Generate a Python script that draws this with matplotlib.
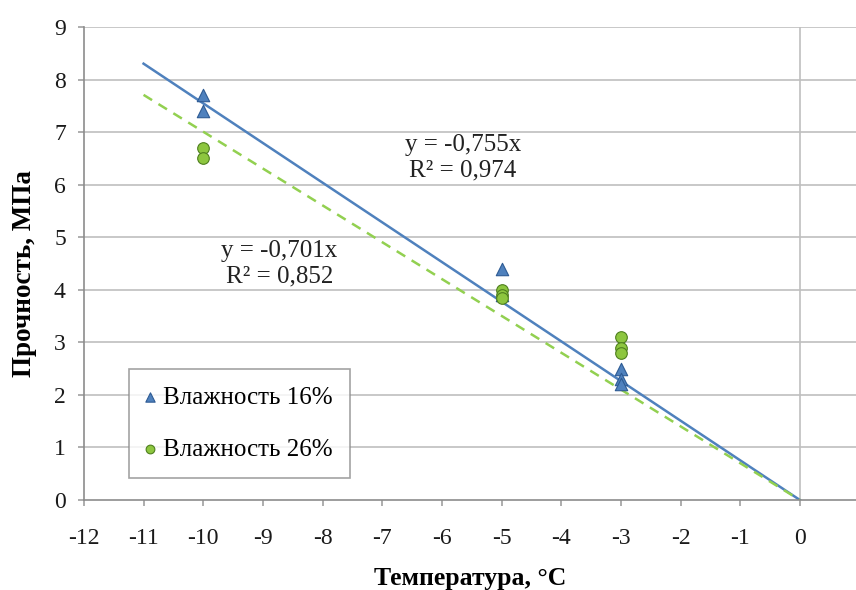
import os
import matplotlib.pyplot as plt
from matplotlib import font_manager
import numpy as np

# register the Times-like serif directly from its files
serif_name = 'Liberation Serif'
for path in font_manager.findSystemFonts():
    base = os.path.basename(path)
    if base.startswith('LiberationSerif') or base.startswith('Tinos'):
        font_manager.fontManager.addfont(path)
        if 'Regular' in base:
            serif_name = font_manager.FontProperties(fname=path).get_name()

plt.rcParams['font.family'] = [serif_name, 'DejaVu Serif']

# measured points
temp_16 = [-10, -10, -5, -5, -3, -3, -3]
str_16 = [7.7, 7.4, 4.4, 3.9, 2.5, 2.3, 2.2]
temp_26 = [-10, -10, -5, -5, -5, -3, -3, -3]
str_26 = [6.7, 6.5, 4.0, 3.9, 3.85, 3.1, 2.9, 2.8]

# trend lines through origin
slope_16 = -0.755
slope_26 = -0.701
r2_16 = 0.974
r2_26 = 0.852
trend_x = [-11, 0]

x_ticks = list(range(-12, 1))
y_ticks = list(range(0, 10))

fig = plt.figure(figsize=(8.56, 5.9), dpi=100)
ax = fig.add_axes([0.098, 0.1525, 0.902, 0.8015])

ax.set_xlim(-12, 0.94)
ax.set_ylim(0, 9)
ax.set_xticks(x_ticks)
ax.set_yticks(y_ticks)
ax.set_xticklabels([str(t) for t in x_ticks])

for y in y_ticks[1:]:
    ax.axhline(y, color='#bfbfbf', lw=1.2, zorder=0)
ax.axvline(0, color='#bfbfbf', lw=1.2, zorder=0)

for side in ['top', 'right']:
    ax.spines[side].set_visible(False)
for side in ['left', 'bottom']:
    ax.spines[side].set_color('#8c8c8c')
    ax.spines[side].set_linewidth(1.2)
ax.tick_params(axis='both', labelsize=17, colors='#1a1a1a', length=4,
               direction='out', width=1.2)
ax.tick_params(axis='both', color='#a0a0a0')
ax.tick_params(axis='x', pad=16)
ax.tick_params(axis='y', pad=9)

tx = np.array(trend_x, dtype=float)
ax.plot(tx, slope_16 * tx, color='#4f81bd', lw=1.8, zorder=2)
ax.plot(tx, slope_26 * tx, color='#92d050', lw=1.8, ls=(0, (4, 3)), zorder=2)

ax.scatter(temp_16, str_16, marker='^', s=80, color='#4f81bd',
           edgecolors='#2e5b94', linewidths=0.8, zorder=3, label='Влажность 16%')
ax.scatter(temp_26, str_26, marker='o', s=70, color='#8dc63f',
           edgecolors='#4e7f1e', linewidths=0.8, zorder=3, label='Влажность 26%')

ax.text(-5.65, 6.51, f'y = {slope_16:.3f}x\nR² = {r2_16:.3f}'.replace('.', ','),
        fontsize=18, ha='center', va='center', linespacing=1.2, color='#222222')
ax.text(-8.72, 4.5, f'y = {slope_26:.3f}x\nR² = {r2_26:.3f}'.replace('.', ','),
        fontsize=18, ha='center', va='center', linespacing=1.2, color='#222222')

ax.set_xlabel('Температура, °C', fontsize=18.5, fontweight='bold')
ax.set_ylabel('Прочность, МПа', fontsize=19.5, fontweight='bold')
ax.xaxis.set_label_coords(0.5, -0.141)
ax.yaxis.set_label_coords(-0.061, 0.479)

leg = ax.legend(loc='lower left', bbox_to_anchor=(0.0583, 0.0465), fontsize=18,
                frameon=True, fancybox=False, handletextpad=0.38,
                handlelength=0.3, borderpad=0.68, labelspacing=1.2,
                borderaxespad=0, markerscale=0.75)
leg.get_frame().set_edgecolor('#8c8c8c')
leg.get_frame().set_linewidth(1.2)

fig.savefig('out.png', dpi=100)
